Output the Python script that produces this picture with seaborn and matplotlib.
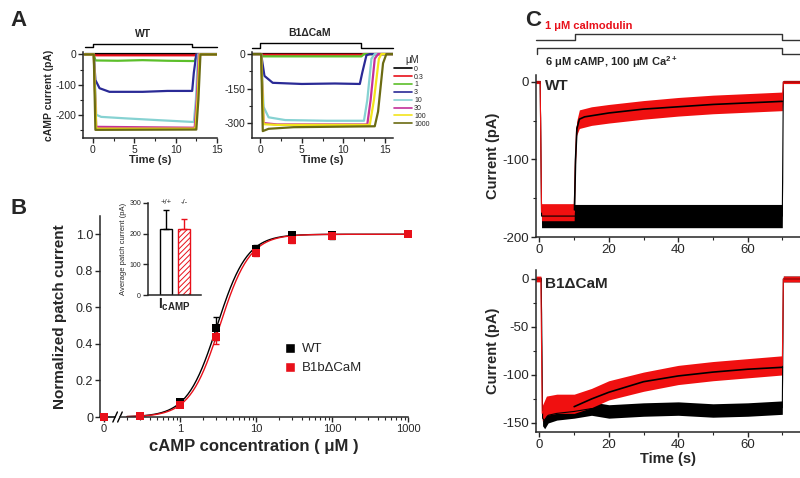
import numpy as np
import pandas as pd
import matplotlib
matplotlib.use("Agg")
import matplotlib.pyplot as plt
import seaborn as sns
from matplotlib.lines import Line2D
from matplotlib.ticker import FixedLocator, NullFormatter

sns.set_style("ticks")
plt.rcParams['font.family'] = ['Liberation Sans', 'DejaVu Sans']
plt.rcParams['mathtext.fontset'] = 'custom'
plt.rcParams['mathtext.rm'] = 'Liberation Sans'
plt.rcParams['mathtext.bf'] = 'Liberation Sans:bold'
plt.rcParams['hatch.color'] = '#e8101a'
plt.rcParams['hatch.linewidth'] = 0.7
plt.rcParams['axes.linewidth'] = 1.1
plt.rcParams['axes.unicode_minus'] = False

# ---------------- DATA ----------------
# Panel A: concentration series (uM) and colours
conc_labels = ["0", "0.3", "1", "3", "10", "30", "100", "1000"]
conc_colors = ["#000000", "#e8101a", "#5cbf2a", "#2a2a96", "#86d2d2", "#c4309a", "#f2e41c", "#6b6b12"]

# WT traces (time s, current pA)
wt_0 = [(-1, 0), (15, 0)]
wt_03 = [(-1, 0), (0.1, 0), (0.3, -3), (12.3, -3), (12.5, 0), (15, 0)]
wt_1 = [(-1, 0), (0.1, 0), (0.3, -20), (3, -21), (6, -19), (9, -21), (12.3, -22), (12.6, 0), (15, 0)]
wt_3 = [(-1, 0), (0.1, 0), (0.3, -85), (0.8, -112), (2, -124), (6, -124), (9, -121), (12.0, -121), (12.2, -60), (12.5, 0), (15, 0)]
wt_10 = [(-1, 0), (0.1, 0), (0.4, -200), (1, -207), (4, -212), (8, -218), (12.2, -224), (12.45, -150), (12.7, 0), (15, 0)]
wt_30 = [(-1, 0), (0.1, 0), (0.4, -240), (12.3, -243), (12.55, -150), (12.8, 0), (15, 0)]
wt_100 = [(-1, 0), (0.1, 0), (0.4, -246), (12.4, -246), (12.65, -150), (12.9, 0), (15, 0)]
wt_1000 = [(-1, 0), (0.1, 0), (0.3, -250), (12.5, -249), (12.75, -150), (13.0, 0), (15, 0)]
wt_traces = [wt_0, wt_03, wt_1, wt_3, wt_10, wt_30, wt_100, wt_1000]

# B1dCaM traces
b_0 = [(-1, 0), (16, 0)]
b_03 = [(-1, 0), (0.1, 0), (0.3, -3), (12.2, -3), (12.4, 0), (16, 0)]
b_1 = [(-1, 0), (0.1, 0), (0.3, -10), (12.2, -10), (12.5, 0), (16, 0)]
b_3 = [(-1, 0), (0.1, 0), (0.5, -95), (1.5, -125), (5, -130), (9, -128), (12, -130), (12.3, -80), (12.8, -5), (13.2, 0), (16, 0)]
b_10 = [(-1, 0), (0.1, 0), (0.4, -230), (1.0, -275), (3, -287), (8, -290), (12.5, -290), (12.9, -200), (13.4, -20), (13.8, 0), (16, 0)]
b_30 = [(-1, 0), (0.1, 0), (0.4, -300), (2, -306), (12.9, -306), (13.3, -200), (13.8, -20), (14.2, 0), (16, 0)]
b_100 = [(-1, 0), (0.1, 0), (0.4, -305), (2, -308), (13.2, -308), (13.7, -200), (14.3, -20), (14.6, 0), (16, 0)]
b_1000 = [(-1, 0), (0.1, 0), (0.3, -335), (1, -325), (4, -318), (13.8, -314), (14.2, -250), (14.8, -40), (15.2, 0), (16, 0)]
b_traces = [b_0, b_03, b_1, b_3, b_10, b_30, b_100, b_1000]

# Panel B: dose-response
conc_B = [0, 0.3, 1, 3, 10, 30, 100, 1000]
wt_norm = [0, 0.005, 0.08, 0.485, 0.92, 0.995, 0.995, 1.0]
wt_err = [0, 0.005, 0.015, 0.065, 0.02, 0.02, 0.02, 0.0]
mut_norm = [0, 0.005, 0.065, 0.44, 0.90, 0.967, 0.993, 1.0]
mut_err = [0, 0.005, 0.012, 0.04, 0.02, 0.015, 0.012, 0.0]
wt_hill = (3.08, 2.2)   # K1/2 (uM), Hill n
mut_hill = (3.34, 2.2)
zero_pos = 0.1          # where "0" sits on the broken log axis

# Inset bars
genotypes = ["+/+", "-/-"]
avg_current = [215, 215]
avg_err = [62, 33]

# Panel C top (WT)
ct_black_t = [-1, 0.2, 0.6, 70.0, 70.3, 75]
ct_black_y = [0, 0, -173, -173, 0, 0]
ct_black_n = [2, 2, 15, 15, 2, 2]
ct_red_t = [-1, 0.2, 0.6, 10.0, 10.3, 10.7, 11.5, 15, 20, 30, 40, 50, 60, 70.0, 70.3, 75]
ct_red_y = [0, 0, -168, -168, -110, -60, -48, -44, -41, -36, -32, -29, -27, -25, 0, 0]
ct_red_n = [2, 2, 11, 11, 6, 9, 12, 12, 12, 12, 12, 12, 12, 12, 2, 2]
ct_fit_t = [10.1, 10.4, 10.8, 11.5, 13, 20, 30, 40, 50, 60, 70]
ct_fit_y = [-165, -100, -60, -48, -45, -40, -35, -32, -29, -27, -25]

# Panel C bottom (B1dCaM)
cb_black_t = [-1, 0.5, 0.9, 1.5, 2.5, 5, 10, 15, 20, 30, 40, 50, 60, 70.0, 70.3, 75]
cb_black_y = [0, 0, -145, -148, -142, -140, -138, -135, -138, -136, -135, -137, -136, -134, 0, 0]
cb_black_n = [2, 2, 8, 8, 8, 7, 7, 7, 7, 7, 7, 7, 7, 7, 3, 3]
cb_red_t = [-1, 0.4, 0.8, 2, 5, 10, 15, 20, 30, 40, 50, 60, 70.0, 70.3, 75]
cb_red_y = [0, 0, -140, -132, -130, -130, -124, -116, -107, -100, -96, -93, -90, 0, 0]
cb_red_n = [3, 3, 8, 10, 10, 10, 10, 10, 10, 10, 10, 10, 10, 3, 3]
cb_fit_t = [10, 15, 20, 30, 40, 50, 60, 70]
cb_fit_y = [-133, -125, -118, -107, -101, -97, -94, -92]

# ---------------- FIGURE ----------------
W, H = 800, 478
fig = plt.figure(figsize=(W / 100, H / 100), dpi=100)


def rect(x0, y0, x1, y1):
    return [x0 / W, 1 - y1 / H, (x1 - x0) / W, (y1 - y0) / H]


def style(ax, fs):
    sns.despine(ax=ax)
    ax.tick_params(which="major", direction="out", length=3.5, width=1, labelsize=fs, pad=1.5)
    ax.tick_params(which="minor", direction="out", length=2, width=0.8)


def traces_df(traces):
    rows = []
    for lab, tr in zip(conc_labels, traces):
        for t, v in tr:
            rows.append((t, v, lab))
    return pd.DataFrame(rows, columns=["t", "I", "conc"])


pal = dict(zip(conc_labels, conc_colors))

# ---- Panel A WT ----
axA1 = fig.add_axes(rect(83, 52, 217, 138))
sns.lineplot(data=traces_df(wt_traces), x="t", y="I", hue="conc", hue_order=conc_labels,
             palette=pal, estimator=None, sort=False, legend=False, lw=1.6, ax=axA1)
axA1.set_xlim(-1.2, 15)
axA1.set_ylim(-277, 8)
axA1.set_xticks([0, 5, 10, 15])
axA1.xaxis.set_minor_locator(FixedLocator([2.5, 7.5, 12.5]))
axA1.set_yticks([0, -100, -200])
axA1.yaxis.set_minor_locator(FixedLocator([-50, -150, -250]))
style(axA1, 7.5)
axA1.set_xlabel("Time (s)", fontsize=8, fontweight="bold", labelpad=0)
axA1.set_ylabel("cAMP current (pA)", fontsize=7.5, fontweight="bold", labelpad=1)
axA1.plot([-1, 0, 0, 12, 12, 15], [23, 23, 36, 36, 23, 23], color="black", lw=1, clip_on=False)
axA1.text(6, 68, "WT", ha="center", va="center", fontsize=7.5, fontweight="bold")

# ---- Panel A B1dCaM ----
axA2 = fig.add_axes(rect(252, 52, 393, 138))
sns.lineplot(data=traces_df(b_traces), x="t", y="I", hue="conc", hue_order=conc_labels,
             palette=pal, estimator=None, sort=False, legend=False, lw=1.6, ax=axA2)
axA2.set_xlim(-1, 16)
axA2.set_ylim(-365, 9)
axA2.set_xticks([0, 5, 10, 15])
axA2.xaxis.set_minor_locator(FixedLocator([2.5, 7.5, 12.5]))
axA2.set_yticks([0, -150, -300])
axA2.yaxis.set_minor_locator(FixedLocator([-75, -225]))
style(axA2, 7.5)
axA2.set_xlabel("Time (s)", fontsize=8, fontweight="bold", labelpad=0)
axA2.set_ylabel("")
axA2.plot([-1, 0, 0, 12.1, 12.1, 16], [26, 26, 48, 48, 26, 26], color="black", lw=1, clip_on=False)
axA2.text(6, 91, "B1\u0394CaM", ha="center", va="center", fontsize=7.5, fontweight="bold")

handles = [Line2D([0], [0], color=c, lw=1.2) for c in conc_colors]
fig.legend(handles, conc_labels, title="\u03bcM", loc="upper left",
           bbox_to_anchor=(394 / W, 1 - 55 / H), frameon=False, fontsize=5,
           title_fontsize=7, handlelength=2.6, handletextpad=0.3, labelspacing=0.12,
           borderpad=0, borderaxespad=0)

# ---- Panel B ----
axB = fig.add_axes(rect(100, 216, 408, 417))
xB = [zero_pos if c == 0 else c for c in conc_B]
xc = np.logspace(np.log10(0.2), 3, 300)
for (K, n), col in [(wt_hill, "black"), (mut_hill, "#e8101a")]:
    sns.lineplot(x=xc, y=1 / (1 + (K / xc) ** n), color=col, lw=1, ax=axB, estimator=None, sort=False)
for yv, ye, col in [(wt_norm, wt_err, "black"), (mut_norm, mut_err, "#e8101a")]:
    axB.errorbar(xB, yv, yerr=ye, fmt="none", ecolor=col, elinewidth=1, capsize=2, capthick=1,
                 clip_on=False, zorder=3)
    sns.scatterplot(x=xB, y=yv, marker="s", color=col, s=28, edgecolor=col, linewidth=0,
                    ax=axB, clip_on=False, zorder=4)
axB.set_xscale("log")
axB.set_xlim(0.0885, 1000)
axB.set_ylim(0, 1.1)
axB.set_xticks([zero_pos, 1, 10, 100, 1000])
axB.set_xticklabels(["0", "1", "10", "100", "1000"])
minors = [m * 10.0 ** e for e in range(-1, 3) for m in range(2, 10)]
axB.xaxis.set_minor_locator(FixedLocator(minors))
axB.xaxis.set_minor_formatter(NullFormatter())
axB.set_yticks([0, 0.2, 0.4, 0.6, 0.8, 1.0])
axB.set_yticklabels(["0", "0.2", "0.4", "0.6", "0.8", "1.0"])
style(axB, 9)
axB.tick_params(axis="x", labelsize=8)
axB.set_xlabel("cAMP concentration ( \u03bcM )", fontsize=12, fontweight="bold", labelpad=4)
axB.set_ylabel("Normalized patch current", fontsize=11, fontweight="bold", labelpad=6)
# axis break
axB.spines["bottom"].set_bounds(0.162, 1000)
trB = axB.get_xaxis_transform()
axB.plot([0.0885, 0.14], [0, 0], color="black", lw=1.1, transform=trB, clip_on=False)
for xb in [0.14, 0.162]:
    axB.plot([xb * 10 ** -0.03, xb * 10 ** 0.03], [-0.025, 0.025], color="black", lw=1,
             transform=trB, clip_on=False)
legB = [Line2D([0], [0], marker="s", color="w", markerfacecolor="black", markersize=7),
        Line2D([0], [0], marker="s", color="w", markerfacecolor="#e8101a", markersize=7)]
axB.legend(legB, ["WT", "B1b\u0394CaM"], loc="upper left", bbox_to_anchor=(0.575, 0.40),
           frameon=False, fontsize=9.5, handlelength=1, handletextpad=0.4, labelspacing=0.5,
           borderpad=0)

# ---- Inset ----
axI = fig.add_axes(rect(148, 203, 201, 295))
sns.barplot(x=genotypes, y=avg_current, ax=axI, width=0.667, color="white")
for p, ec, h in zip(axI.patches, ["black", "#e8101a"], [None, "//////"]):
    p.set_facecolor("white")
    p.set_edgecolor(ec)
    p.set_linewidth(1)
    if h:
        p.set_hatch(h)
for i, (v, e, c) in enumerate(zip(avg_current, avg_err, ["black", "#e8101a"])):
    axI.errorbar([i], [v], yerr=[[0], [e]], fmt="none", ecolor=c, elinewidth=1, capsize=2.5,
                 capthick=1)
    axI.text(i, 300, genotypes[i], ha="center", va="center", fontsize=5.5)
axI.set_xlim(-1, 1.94)
axI.set_ylim(0, 300)
axI.set_yticks([0, 100, 200, 300])
axI.set_xticks([])
style(axI, 5)
axI.set_xlabel(r"$\mathbf{I_{cAMP}}$", fontsize=10, labelpad=1)
axI.set_ylabel("Average patch current (pA)", fontsize=5.5, labelpad=2)

# ---- Panel C ----
def draw_band(ax, t, y, n, color):
    t = np.array(t, float); y = np.array(y, float); n = np.array(n, float)
    ax.fill_between(t, y - n, y + n, color=color, lw=0)
    sns.lineplot(x=t, y=y, color=color, lw=0.8, ax=ax, estimator=None, sort=False)


axC1 = fig.add_axes(rect(536, 75, 800, 237))
draw_band(axC1, ct_black_t, ct_black_y, ct_black_n, "black")
draw_band(axC1, ct_red_t, ct_red_y, ct_red_n, "#f01010")
sns.lineplot(x=ct_fit_t, y=ct_fit_y, color="black", lw=1.2, ax=axC1, estimator=None, sort=False)
axC1.set_xlim(-1, 75.1)
axC1.set_ylim(-200, 9)
axC1.set_yticks([0, -100, -200])
axC1.yaxis.set_minor_locator(FixedLocator([-50, -150]))
axC1.set_xticks([0, 20, 40, 60])
axC1.xaxis.set_minor_locator(FixedLocator([10, 30, 50, 70]))
style(axC1, 9.5)
axC1.set_ylabel("Current (pA)", fontsize=10.5, fontweight="bold", labelpad=2)
axC1.text(1.5, -5, "WT", ha="left", va="center", fontsize=11, fontweight="bold")
axC1.plot([-0.9, 10.1, 10.1, 70, 70, 75.1], [54, 54, 62, 62, 54, 54], color="#333333", lw=1,
          clip_on=False)
axC1.plot([-0.6, -0.6, 70, 70, 75.1], [36, 44, 44, 36, 36], color="#333333", lw=1, clip_on=False)
axC1.text(1.5, 72.5, "1 \u03bcM calmodulin", color="#e8101a", fontsize=8, fontweight="bold",
          ha="left", va="center")
axC1.text(1.5, 26, r"6 $\mathbf{\mu}$M cAMP, 100 $\mathbf{\mu}$M Ca$^{\mathbf{2+}}$", fontsize=8,
          fontweight="bold", ha="left", va="center")

axC2 = fig.add_axes(rect(536, 270, 800, 432))
draw_band(axC2, cb_black_t, cb_black_y, cb_black_n, "black")
draw_band(axC2, cb_red_t, cb_red_y, cb_red_n, "#f01010")
sns.lineplot(x=cb_fit_t, y=cb_fit_y, color="black", lw=1.2, ax=axC2, estimator=None, sort=False)
axC2.set_xlim(-1, 75.1)
axC2.set_ylim(-159.4, 9.35)
axC2.set_yticks([0, -50, -100, -150])
axC2.yaxis.set_minor_locator(FixedLocator([-25, -75, -125]))
axC2.set_xticks([0, 20, 40, 60])
axC2.xaxis.set_minor_locator(FixedLocator([10, 30, 50, 70]))
style(axC2, 9.5)
axC2.set_ylabel("Current (pA)", fontsize=10.5, fontweight="bold", labelpad=2)
axC2.set_xlabel("Time (s)", fontsize=10.5, fontweight="bold", labelpad=1)
axC2.text(1.5, -5, "B1\u0394CaM", ha="left", va="center", fontsize=11, fontweight="bold")

# Panel letters
for lab, x, y in [("A", 10, 20), ("B", 10, 208), ("C", 525, 20)]:
    fig.text(x / W, 1 - y / H, lab, fontsize=16, fontweight="bold", ha="left", va="center")

fig.savefig("out.png", dpi=100)
